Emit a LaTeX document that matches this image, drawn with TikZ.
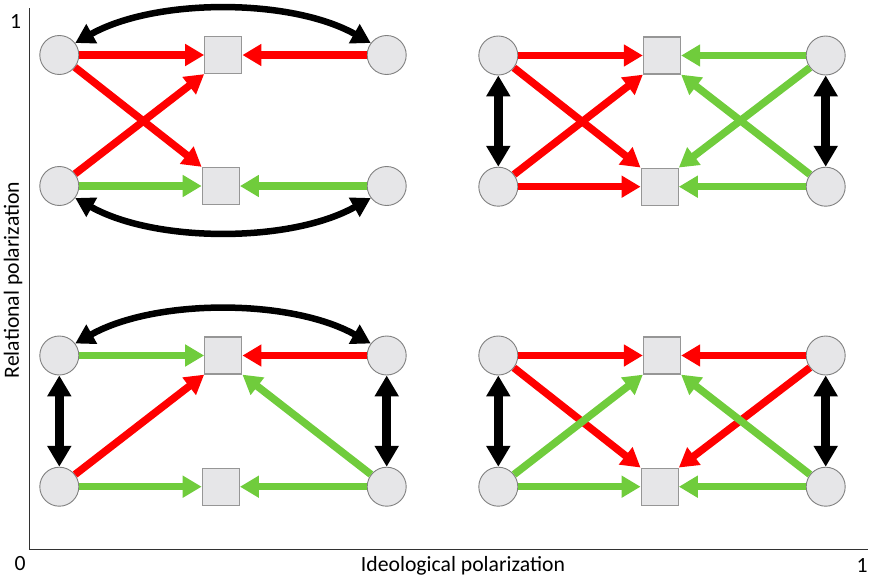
\documentclass[tikz,border=0pt]{standalone}
\usepackage{fontspec}
\setmainfont{Carlito}
\usetikzlibrary{arrows.meta}
\definecolor{nodegray}{RGB}{230,230,232}
\definecolor{circborder}{RGB}{128,128,128}
\definecolor{sqborder}{RGB}{150,150,150}
\definecolor{ared}{RGB}{255,0,0}
\definecolor{agreen}{RGB}{112,204,60}
\definecolor{axisgray}{RGB}{50,50,50}
\tikzset{
  actor/.style={circle,fill=nodegray,draw=circborder,line width=0.9pt,minimum size=39pt,inner sep=0pt},
  issue/.style={rectangle,fill=nodegray,draw=sqborder,line width=1.3pt,minimum size=37pt,inner sep=0pt},
  redarr/.style={draw=ared,line width=7.5pt,-{Triangle[length=19pt,width=21pt]}},
  greenarr/.style={draw=agreen,line width=7.5pt,-{Triangle[length=19pt,width=21pt]}},
  tie/.style={draw=black,line width=6.5pt,{Triangle[length=19pt,width=21pt]}-{Triangle[length=19pt,width=21pt]}},
  vtie/.style={draw=black,line width=9pt,{Triangle[length=21pt,width=23pt]}-{Triangle[length=21pt,width=23pt]}},
  lab/.style={font=\fontsize{21.7}{25}\selectfont,inner sep=0pt}
}
\begin{document}
\begin{tikzpicture}[x=1pt,y=-1pt]
\useasboundingbox (0,0) rectangle (872,581);
% axes
\coordinate (otop) at (29.5,8);
\coordinate (orig) at (29.5,549.5);
\coordinate (xend) at (868,549.5);
\draw[axisgray,line width=1.8pt] (otop) -- (orig) -- (xend);
\node[lab] (ytop) at (15.5,22) {1};
\node[lab] (x0) at (20,564) {0};
\node[lab] (x1) at (862,566) {1};
\node[lab] (xlab) at (463,566) {Ideological polarization};
\node[lab,rotate=90] (ylab) at (13,280) {Relational polarization};

% ---------- Panel TL ----------
\node[actor] (a1) at (59.3,55) {};
\node[actor] (b1) at (386.7,55) {};
\node[actor] (c1) at (59.3,186) {};
\node[actor] (d1) at (386.7,186) {};
\node[issue] (s1) at (223.3,55) {};
\node[issue] (t1) at (220.8,186) {};
\draw[redarr] (a1) -- (s1);
\draw[redarr] (b1) -- (s1);
\draw[redarr] (a1) -- (t1.north west);
\draw[redarr] (c1) -- (s1.south west);
\draw[greenarr] (c1) -- (t1);
\draw[greenarr] (d1) -- (t1);
\draw[tie] (a1.37) .. controls +(80,-45) and +(-80,-45) .. (b1.143);
\draw[tie] (c1.-37) .. controls +(80,45) and +(-80,45) .. (d1.-143);

% ---------- Panel TR ----------
\node[actor] (a2) at (498.3,55.5) {};
\node[actor] (b2) at (825.7,55.5) {};
\node[actor] (c2) at (498.3,186.7) {};
\node[actor] (d2) at (825.7,186.7) {};
\node[issue] (s2) at (662,55.5) {};
\node[issue] (t2) at (659.7,186.7) {};
\draw[redarr] (a2) -- (s2);
\draw[redarr] (c2) -- (t2);
\draw[redarr] (a2) -- (t2.north west);
\draw[redarr] (c2) -- (s2.south west);
\draw[greenarr] (b2) -- (s2);
\draw[greenarr] (d2) -- (t2);
\draw[greenarr] (b2) -- (t2.north east);
\draw[greenarr] (d2) -- (s2.south east);
\draw[vtie] (a2) -- (c2);
\draw[vtie] (b2) -- (d2);

% ---------- Panel BL ----------
\node[actor] (a3) at (59.3,355.5) {};
\node[actor] (b3) at (386.7,355.5) {};
\node[actor] (c3) at (59.3,486.7) {};
\node[actor] (d3) at (386.7,486.7) {};
\node[issue] (s3) at (223.3,355.5) {};
\node[issue] (t3) at (220.8,486.7) {};
\draw[greenarr] (a3) -- (s3);
\draw[redarr] (b3) -- (s3);
\draw[redarr] (c3) -- (s3.south west);
\draw[greenarr] (d3) -- (s3.south east);
\draw[greenarr] (c3) -- (t3);
\draw[greenarr] (d3) -- (t3);
\draw[vtie] (a3) -- (c3);
\draw[vtie] (b3) -- (d3);
\draw[tie] (a3.37) .. controls +(80,-45) and +(-80,-45) .. (b3.143);

% ---------- Panel BR ----------
\node[actor] (a4) at (498.3,355.5) {};
\node[actor] (b4) at (825.7,355.5) {};
\node[actor] (c4) at (498.3,486.7) {};
\node[actor] (d4) at (825.7,486.7) {};
\node[issue] (s4) at (662,355.5) {};
\node[issue] (t4) at (659.7,486.7) {};
\draw[redarr] (a4) -- (s4);
\draw[redarr] (b4) -- (s4);
\draw[redarr] (a4) -- (t4.north west);
\draw[redarr] (b4) -- (t4.north east);
\draw[greenarr] (c4) -- (s4.south west);
\draw[greenarr] (d4) -- (s4.south east);
\draw[greenarr] (c4) -- (t4);
\draw[greenarr] (d4) -- (t4);
\draw[vtie] (a4) -- (c4);
\draw[vtie] (b4) -- (d4);
\end{tikzpicture}
\end{document}
